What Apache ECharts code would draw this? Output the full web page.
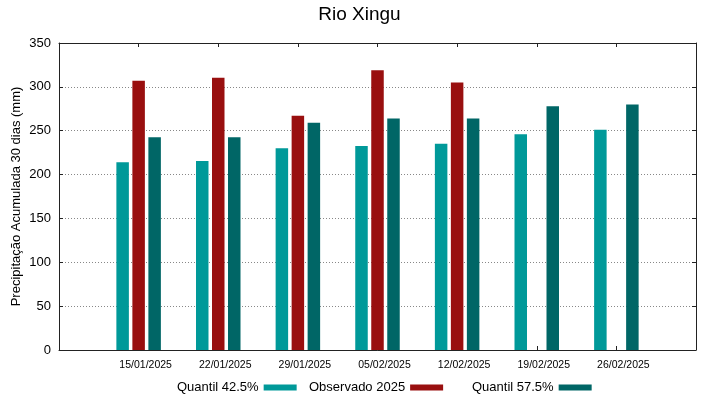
<!DOCTYPE html>
<html>
<head>
<meta charset="utf-8">
<script src="https://cdn.jsdelivr.net/npm/echarts@6/dist/echarts.min.js"></script>
<style>
  html, body { margin: 0; padding: 0; background: #fff; }
  #chart { width: 719px; height: 399px; }
</style>
</head>
<body>
<div id="chart"></div>
<script>
  const datas = ['15/01/2025', '22/01/2025', '29/01/2025', '05/02/2025', '12/02/2025', '19/02/2025', '26/02/2025'];
  const quantil425 = [214, 215.5, 230, 232.5, 235, 246, 251];
  const observado = [307, 310.5, 267, 319, 305, null, null];
  const quantil575 = [242.5, 242.5, 259, 264, 264, 278, 280];
  const yTicks = [0, 50, 100, 150, 200, 250, 300, 350];

  const fonte = 'Liberation Sans, Arial, sans-serif';
  const cores = ['#009999', '#990f0f', '#006666'];

  // uma categoria vazia em cada ponta, como o eixo do gnuplot (-1 .. 7)
  const categorias = [''].concat(datas, ['']);

  function pares(vals) {
    return vals.map((v, i) => [i + 1, v]);
  }

  const eixoX = {
    type: 'category',
    data: categorias,
    boundaryGap: false,
    axisLine: { show: true, onZero: false, lineStyle: { color: '#222', width: 1 } },
    axisTick: { show: true, inside: true, length: 4, lineStyle: { color: '#222' } },
    splitLine: { show: false }
  };

  const eixoY = {
    type: 'value',
    min: yTicks[0],
    max: yTicks[yTicks.length - 1],
    interval: 50,
    axisLine: { show: true, onZero: false, lineStyle: { color: '#222', width: 1 } },
    axisTick: { show: true, inside: true, length: 4, lineStyle: { color: '#222' } }
  };

  const option = {
    animation: false,
    textStyle: { fontFamily: fonte },
    title: {
      text: 'Rio Xingu',
      left: 'center',
      top: 5,
      padding: 0,
      textStyle: { fontSize: 19, fontWeight: 'normal', color: '#000', fontFamily: fonte }
    },
    grid: { left: 59, right: 23, top: 43, bottom: 49, containLabel: false, outerBoundsMode: 'none' },
    legend: [
      { name: 'Quantil 42.5%', left: 177 },
      { name: 'Observado 2025', left: 309 },
      { name: 'Quantil 57.5%', left: 472 }
    ].map(l => ({
      data: [l.name],
      left: l.left,
      top: 381,
      align: 'right',
      icon: 'rect',
      itemWidth: 33,
      itemHeight: 6,
      selectedMode: false,
      padding: 0,
      textStyle: { fontSize: 13, color: '#000', fontFamily: fonte }
    })),
    xAxis: [
      Object.assign({}, eixoX, {
        position: 'bottom',
        axisLabel: {
          show: true,
          interval: 0,
          fontSize: 10.5,
          color: '#000',
          margin: 10,
          padding: [0, 0, 0, 14]
        }
      }),
      Object.assign({}, eixoX, { position: 'top', axisLabel: { show: false } })
    ],
    yAxis: [
      Object.assign({}, eixoY, {
        position: 'left',
        name: 'Precipitação Acumulada 30 dias (mm)',
        nameLocation: 'middle',
        nameGap: 36,
        nameMoveOverlap: false,
        nameTextStyle: { fontSize: 13, color: '#000', fontFamily: fonte },
        axisLabel: { fontSize: 13, color: '#000', margin: 8 },
        splitLine: { show: true, lineStyle: { type: [1, 2], color: '#888', width: 1 } }
      }),
      Object.assign({}, eixoY, {
        position: 'right',
        axisLabel: { show: false },
        splitLine: { show: false }
      })
    ],
    series: [
      { name: 'Quantil 42.5%', type: 'bar', data: pares(quantil425) },
      { name: 'Observado 2025', type: 'bar', data: pares(observado) },
      { name: 'Quantil 57.5%', type: 'bar', data: pares(quantil575) }
    ].map((s, i) => Object.assign(s, {
      barWidth: 12.5,
      barGap: '28%',
      itemStyle: { color: cores[i] }
    }))
  };

  const chart = echarts.init(document.getElementById('chart'));
  chart.setOption(option);
</script>
</body>
</html>
